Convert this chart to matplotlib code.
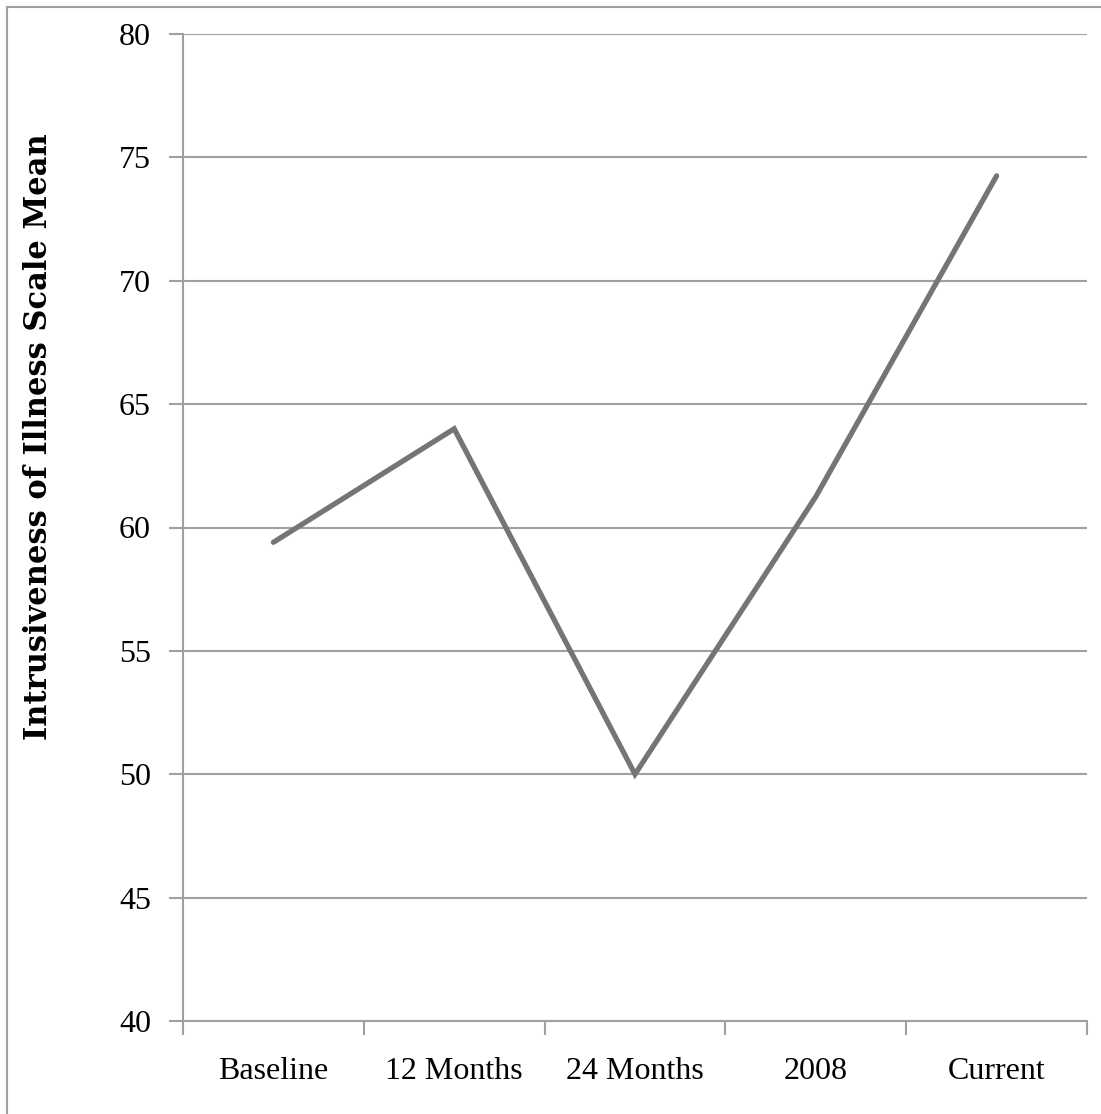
import matplotlib
matplotlib.use("Agg")
import matplotlib.pyplot as plt
from matplotlib.patches import Rectangle

categories = ["Baseline", "12 Months", "24 Months", "2008", "Current"]
values = [59.4, 64.0, 50.0, 61.25, 74.25]
y_ticks = [40, 45, 50, 55, 60, 65, 70, 75, 80]
y_label = "Intrusiveness of Illness Scale Mean"

plt.rcParams['font.family'] = ['Liberation Serif', 'DejaVu Serif']

W, H = 1101, 1114
fig = plt.figure(figsize=(W / 100, H / 100), dpi=100)
fig.patches.append(Rectangle((7 / W, -0.1), 1.2, 1.1 - 7 / H, transform=fig.transFigure,
                             fill=False, edgecolor='#a0a0a0', linewidth=1.5))

ax = fig.add_axes([183 / W, 1 - 1021 / H, (1087 - 183) / W, (1021 - 34) / H])
x = list(range(len(categories)))
ax.plot(x, values, color='#757575', linewidth=3.8, solid_capstyle='round',
        solid_joinstyle='miter', zorder=3)

ax.set_xlim(-0.5, len(categories) - 0.5)
ax.set_ylim(40, 80)
ax.set_yticks(y_ticks)
ax.set_yticklabels([str(v) for v in y_ticks], fontsize=23)
ax.yaxis.grid(True, color='#a0a0a0', linewidth=1.5)
ax.set_axisbelow(True)

ax.set_xticks([i - 0.5 for i in range(len(categories) + 1)])
ax.set_xticklabels([])
ax.set_xticks(x, minor=True)
ax.set_xticklabels(categories, minor=True, fontsize=23)
ax.tick_params(axis='x', which='minor', length=0, pad=26)
ax.tick_params(axis='x', which='major', length=10, width=1.5, color='#a0a0a0', direction='out')
ax.tick_params(axis='y', length=10, width=1.5, color='#a0a0a0', direction='out', pad=13)

for s in ['top', 'right']:
    ax.spines[s].set_visible(False)
for s in ['left', 'bottom']:
    ax.spines[s].set_color('#a0a0a0')
    ax.spines[s].set_linewidth(1.5)

fig.text(39 / W, 1 - 437 / H, y_label, rotation=90, fontsize=22, fontweight='bold',
         family='DejaVu Serif', ha='center', va='center')

fig.savefig("out.png", dpi=100)
